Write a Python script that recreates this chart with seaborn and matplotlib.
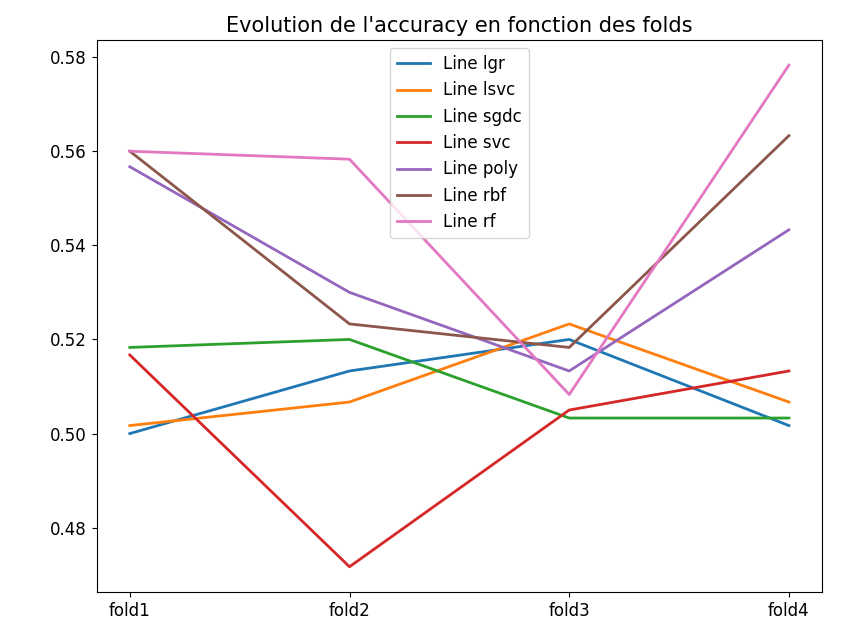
import pandas as pd
import matplotlib
matplotlib.use("Agg")
import matplotlib.pyplot as plt
import seaborn as sns

folds = ["fold1", "fold2", "fold3", "fold4"]
lgr = [0.5000, 0.5133, 0.5200, 0.5017]
lsvc = [0.5017, 0.5067, 0.5233, 0.5067]
sgdc = [0.5183, 0.5200, 0.5033, 0.5033]
svc = [0.5167, 0.4717, 0.5050, 0.5133]
poly = [0.5567, 0.5300, 0.5133, 0.5433]
rbf = [0.5600, 0.5233, 0.5183, 0.5633]
rf = [0.5600, 0.5583, 0.5083, 0.5783]

series = {"lgr": lgr, "lsvc": lsvc, "sgdc": sgdc, "svc": svc,
          "poly": poly, "rbf": rbf, "rf": rf}

fig, ax = plt.subplots(figsize=(8.57, 6.35), dpi=100)
palette = sns.color_palette("tab10")
for i, (name, vals) in enumerate(series.items()):
    df = pd.DataFrame({"fold": folds, "acc": vals})
    sns.lineplot(data=df, x="fold", y="acc", ax=ax, color=palette[i],
                 label=f"Line {name}", sort=False, linewidth=2)

ax.set_title("Evolution de l'accuracy en fonction des folds", fontsize=15)
ax.set_xlabel("")
ax.set_ylabel("")
ax.tick_params(labelsize=12)
ax.legend(loc="upper center", fontsize=12)
fig.subplots_adjust(left=0.113, right=0.959, top=0.937, bottom=0.068)
plt.savefig("out.png")
